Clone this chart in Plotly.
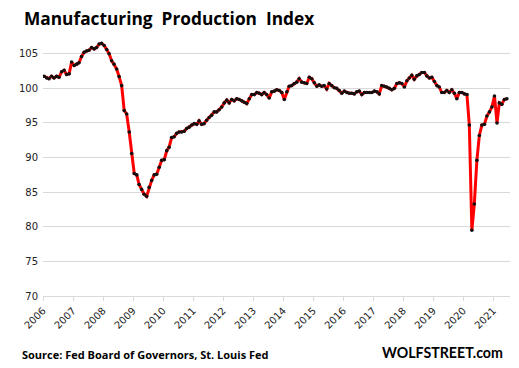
import pandas as pd
import plotly.graph_objects as go

# Monthly manufacturing production index, Jan 2006 - Jun 2021
v2006 = [101.75, 101.5, 101.4, 101.75, 101.5, 101.75, 101.6, 102.4, 102.6, 102.0, 102.1, 103.8]
v2007 = [103.3, 103.5, 103.7, 104.6, 105.2, 105.4, 105.5, 105.9, 105.7, 105.9, 106.4, 106.5]
v2008 = [106.2, 105.6, 105.0, 104.0, 103.5, 102.8, 101.7, 100.4, 96.8, 96.3, 93.7, 90.6]
v2009 = [87.7, 87.5, 86.1, 85.4, 84.7, 84.4, 85.7, 86.7, 87.5, 87.6, 88.6, 89.6]
v2010 = [89.7, 91.0, 91.5, 92.9, 93.0, 93.5, 93.7, 93.7, 93.8, 94.2, 94.4, 94.7]
v2011 = [94.9, 94.8, 95.3, 94.8, 94.9, 95.4, 95.8, 96.1, 96.6, 96.6, 96.9, 97.3]
v2012 = [97.9, 98.3, 97.9, 98.4, 98.2, 98.5, 98.4, 98.2, 98.0, 97.8, 98.5, 99.1]
v2013 = [99.1, 99.4, 99.3, 99.1, 99.4, 99.1, 98.6, 99.5, 99.6, 99.8, 99.7, 99.4]
v2014 = [98.4, 99.5, 100.3, 100.4, 100.7, 100.9, 101.4, 100.9, 100.8, 100.7, 101.6, 101.4]
v2015 = [100.8, 100.3, 100.5, 100.3, 100.4, 99.9, 100.7, 100.4, 100.1, 100.0, 99.7, 99.3]
v2016 = [99.6, 99.4, 99.3, 99.3, 99.2, 99.5, 99.6, 99.1, 99.4, 99.4, 99.4, 99.4]
v2017 = [99.6, 99.5, 99.2, 100.4, 100.3, 100.2, 100.0, 99.8, 100.0, 100.7, 100.8, 100.7]
v2018 = [100.2, 101.1, 101.5, 101.9, 101.3, 101.8, 102.0, 102.3, 102.3, 101.8, 101.5, 101.6]
v2019 = [101.0, 100.4, 100.2, 99.4, 99.4, 99.7, 99.4, 99.8, 99.3, 98.5, 99.4, 99.4]
v2020 = [99.2, 99.1, 94.7, 79.5, 83.3, 89.6, 93.2, 94.7, 94.8, 96.0, 96.6, 97.3]
v2021 = [98.9, 95.0, 97.9, 97.7, 98.4, 98.5]

values = (v2006 + v2007 + v2008 + v2009 + v2010 + v2011 + v2012 + v2013 + v2014
          + v2015 + v2016 + v2017 + v2018 + v2019 + v2020 + v2021)
dates = pd.date_range("2006-01-01", periods=len(values), freq="MS") + pd.Timedelta(days=14)

years = list(range(2006, 2022))
year_ticks = [f"{y}-01-01" for y in years]
year_labels = [str(y) for y in years]
y_ticks = [70, 75, 80, 85, 90, 95, 100, 105]

title_text = "Manufacturing  Production  Index"
source_text = "Source: Fed Board of Governors, St. Louis Fed"
brand_text = "WOLFSTREET.com"

# The page body has an 8px default margin; lay the figure out in page pixels.
OFF = 8
W, H = 519 - OFF, 368 - OFF
L, R, T, B = 43.3 - OFF, 9, 32.5 - OFF, 72.3
PW, PH = W - L - R, H - T - B

def px_x(px):
    return (px - OFF - L) / PW

def px_y(py):
    return (T + PH - (py - OFF)) / PH

fig = go.Figure()
fig.add_trace(go.Scatter(
    x=dates, y=values, mode="lines+markers",
    line=dict(color="#FF0000", width=3.0),
    marker=dict(color="#111111", size=3.6),
    hoverinfo="skip", showlegend=False,
))

fig.update_layout(
    width=W, height=H,
    margin=dict(l=L, r=R, t=T, b=B, pad=0, autoexpand=False),
    paper_bgcolor="white", plot_bgcolor="white",
    font=dict(family="DejaVu Sans", size=10, color="#222222"),
    xaxis=dict(
        type="date", range=["2006-01-01", "2021-07-23"],
        tickvals=year_ticks, ticktext=year_labels, tickangle=-45,
        showgrid=False, zeroline=False,
        showline=True, linecolor="#D9D9D9", linewidth=1,
        ticks="outside", ticklen=4, tickcolor="#D9D9D9", tickwidth=1,
        tickfont=dict(family="DejaVu Sans", size=10, color="#222222"),
    ),
    yaxis=dict(
        range=[70, 108], tickvals=y_ticks,
        showgrid=True, gridcolor="#D9D9D9", gridwidth=1,
        zeroline=False, showline=False, ticks="",
        ticklabelstandoff=4,
        tickfont=dict(family="DejaVu Sans", size=10, color="#222222"),
    ),
    annotations=[
        dict(text=f"<b>{title_text}</b>", xref="paper", yref="paper",
             x=px_x(22), y=px_y(18), xanchor="left", yanchor="middle",
             showarrow=False, font=dict(family="Open Sans", size=17.3, color="#000000")),
        dict(text=f"<b>{source_text}</b>", xref="paper", yref="paper",
             x=px_x(20), y=px_y(354.5), xanchor="left", yanchor="middle",
             showarrow=False, font=dict(family="Open Sans", size=11, color="#000000")),
        dict(text=f"<b>{brand_text}</b>", xref="paper", yref="paper",
             x=px_x(505), y=px_y(352.5), xanchor="right", yanchor="middle",
             showarrow=False, font=dict(family="Lato", size=14.2, color="#000000")),
    ],
)

fig.write_html("out.html")
